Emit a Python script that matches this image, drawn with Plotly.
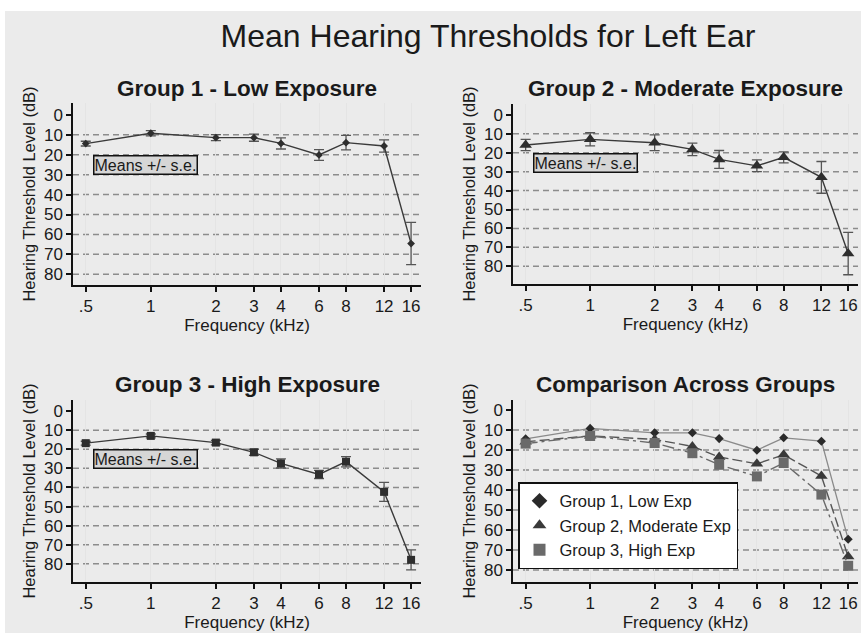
import plotly.graph_objects as go

# ---------------- data ----------------
freq = [0.5, 1, 2, 3, 4, 6, 8, 12, 16]
freq_labels = [".5", "1", "2", "3", "4", "6", "8", "12", "16"]
db_ticks = [0, 10, 20, 30, 40, 50, 60, 70, 80]
grid_db = [10, 20, 30, 40, 50, 60, 70, 80]

g1_mean = [14.4, 9.2, 11.4, 11.4, 14.3, 20.1, 13.9, 15.6, 64.6]
g1_se = [1.2, 1.3, 1.5, 1.8, 2.8, 2.7, 3.6, 3.1, 10.6]
g2_mean = [15.9, 12.9, 14.7, 18.2, 23.5, 26.9, 22.4, 33.0, 73.3]
g2_se = [3.0, 3.5, 4.2, 3.3, 4.7, 3.1, 2.9, 8.4, 11.2]
g3_mean = [16.8, 13.0, 16.5, 21.6, 27.4, 33.2, 26.5, 42.3, 77.9]
g3_se = [1.0, 1.0, 1.2, 1.6, 2.4, 2.1, 2.7, 5.0, 5.2]

panel_titles = ["Group 1 - Low Exposure", "Group 2 - Moderate Exposure",
                "Group 3 - High Exposure", "Comparison Across Groups"]
legend_names = ["Group 1, Low Exp", "Group 2, Moderate Exp", "Group 3, High Exp"]
main_title = "Mean Hearing Thresholds for Left Ear"
x_title = "Frequency (kHz)"
y_title = "Hearing Threshold Level (dB)"
note_text = "Means +/- s.e."

# ---------------- layout helpers ----------------
W, H = 861, 633
FONT = "Liberation Sans, Arial, sans-serif"


def fx(p):
    return p / W


def fy(p):
    return 1 - p / H


# pixel boxes: (left, right, top, bottom), y range (reversed)
panels = [
    dict(box=(73, 421, 103, 285), yr=[85.4, -6]),
    dict(box=(513, 858, 104, 284), yr=[89.4, -5.8]),
    dict(box=(73, 421, 400, 582), yr=[89.5, -5.8]),
    dict(box=(513, 858, 400, 582), yr=[86, -5]),
]
title_y = [88, 88, 384, 384]

fig = go.Figure()

line_col = "#3a3a3a"
mark_col = "#2e2e2e"
err_col = "#555555"

single = [
    (g1_mean, g1_se, "diamond", 6),
    (g2_mean, g2_se, "triangle-up", 11),
    (g3_mean, g3_se, "square", 8),
]
for i, (m, se, sym, sz) in enumerate(single):
    ax = "" if i == 0 else str(i + 1)
    fig.add_trace(go.Scatter(
        x=freq, y=m, mode="lines+markers",
        line=dict(color=line_col, width=1.4),
        marker=dict(symbol=sym, size=sz, color=mark_col),
        error_y=dict(type="data", array=se, arrayminus=se, color=err_col,
                     thickness=1.3, width=5),
        xaxis="x" + ax, yaxis="y" + ax, showlegend=False,
    ))

comp = [
    (g1_mean, "diamond", 7, "#2a2a2a", "#8a8a8a", "solid", 1.3),
    (g2_mean, "triangle-up", 11, "#3a3a3a", "#555555", "10px,4px", 1.4),
    (g3_mean, "square", 10, "#6a6a6a", "#6a6a6a", "12px,4px,3px,4px", 1.4),
]
for (m, sym, sz, mc, lc, dash, lw), name in zip(comp, legend_names):
    fig.add_trace(go.Scatter(
        x=freq, y=m, mode="lines+markers",
        line=dict(color=lc, width=lw, dash=dash),
        marker=dict(symbol=sym, size=sz, color=mc),
        xaxis="x4", yaxis="y4", showlegend=False,
    ))
for (m, sym, sz, mc, lc, dash, lw), name in zip(comp, legend_names):
    fig.add_trace(go.Scatter(
        x=[None], y=[None], mode="markers", name=name,
        marker=dict(symbol=sym, size=sz, color=mc),
        xaxis="x4", yaxis="y4", showlegend=True,
    ))

layout = dict(
    width=W, height=H,
    margin=dict(l=0, r=0, t=0, b=0),
    paper_bgcolor="white",
    plot_bgcolor="white",
    font=dict(family=FONT, color="#1a1a1a"),
    title=dict(text=main_title, x=fx(488), xanchor="center", y=fy(36),
               yanchor="middle", xref="paper", yref="paper",
               font=dict(size=32, family=FONT, color="#1a1a1a")),
    showlegend=True,
    legend=dict(x=fx(518), y=fy(482), xanchor="left", yanchor="top",
                bgcolor="white", bordercolor="#111111", borderwidth=1.5,
                font=dict(size=16.5, family=FONT, color="#1a1a1a"),
                itemsizing="constant"),
)

shapes = [dict(type="rect", xref="paper", yref="paper", x0=fx(5), x1=1,
               y0=0, y1=fy(11), fillcolor="#ebebeb", line=dict(width=0),
               layer="below")]
annotations = []

for i, p in enumerate(panels):
    l, r, t, b = p["box"]
    sfx = "" if i == 0 else str(i + 1)
    layout["xaxis" + sfx] = dict(
        domain=[fx(l), fx(r)], anchor="y" + sfx, type="log",
        range=[-0.36, 1.25], tickvals=freq, ticktext=freq_labels,
        ticks="outside", ticklen=5, tickwidth=1.5, tickcolor="#111",
        showline=True, linecolor="#111", linewidth=1.5,
        showgrid=True, gridcolor="#e4e4e4", gridwidth=1.2, zeroline=False,
        tickfont=dict(size=17, family=FONT, color="#1a1a1a"),
        title=dict(text=x_title, standoff=1,
                   font=dict(size=17, family=FONT, color="#1a1a1a")),
        automargin=False, fixedrange=True,
    )
    layout["yaxis" + sfx] = dict(
        domain=[fy(b), fy(t)], anchor="x" + sfx, range=p["yr"],
        autorange=False, tickvals=db_ticks,
        ticks="outside", ticklen=5, tickwidth=1.5, tickcolor="#111",
        showline=True, linecolor="#111", linewidth=1.5,
        showgrid=False, zeroline=False,
        tickfont=dict(size=17, family=FONT, color="#1a1a1a"),
        title=dict(text=y_title, standoff=4,
                   font=dict(size=16.5, family=FONT, color="#1a1a1a")),
        automargin=False, fixedrange=True,
    )
    for g in grid_db:
        shapes.append(dict(type="line", xref="x" + sfx + " domain", yref="y" + sfx,
                           x0=0, x1=1, y0=g, y1=g, layer="below",
                           line=dict(color="#8c8c8c", width=1.5, dash="6px,4px")))
    annotations.append(dict(
        text="<b>" + panel_titles[i] + "</b>", xref="x" + sfx + " domain", x=0.5,
        xanchor="center", yref="paper", y=fy(title_y[i]), yanchor="middle",
        showarrow=False, font=dict(size=22.5, family=FONT, color="#1a1a1a")))
    if i < 3:
        ny = [0.66, 0.675, 0.676][i]
        annotations.append(dict(
            text=note_text, xref="x" + sfx + " domain", x=0.057, xanchor="left",
            yref="y" + sfx + " domain", y=ny, yanchor="middle", showarrow=False,
            bgcolor="#d6d6d6", bordercolor="#111111", borderwidth=1.5, borderpad=0,
            font=dict(size=16, family=FONT, color="#1a1a1a")))

layout["shapes"] = shapes
layout["annotations"] = annotations
fig.update_layout(**layout)

fig.write_html("out.html",
               config={"displayModeBar": False},
               post_script="document.body.style.margin='0';"
                           "document.body.style.overflow='hidden';")
